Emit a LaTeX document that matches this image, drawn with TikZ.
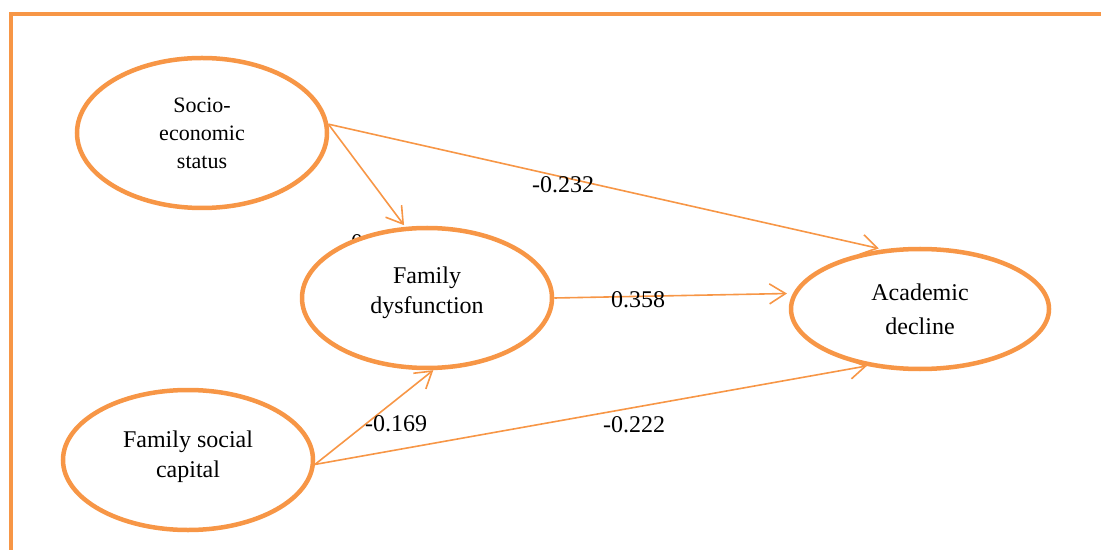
\documentclass[tikz,border=0pt]{standalone}
\usepackage{fontspec}
\setmainfont{Liberation Serif}
\usetikzlibrary{shapes}
\usetikzlibrary{arrows.meta}
\definecolor{pathorange}{HTML}{F79646}

\begin{document}
\begin{tikzpicture}
        [x=0.5pt, y=-0.5pt,
         every node/.style={ellipse, draw=pathorange, fill=white, line width=2.25pt, inner sep=0pt,
                            align=center, font=\fontsize{12}{15}\selectfont},
         coef/.style={rectangle, draw=none, fill=none, inner sep=1pt, font=\fontsize{12}{14}\selectfont},
         link/.style={draw=pathorange, line width=0.8pt, -{Straight Barb[length=8pt,width=10pt]}}]
        \useasboundingbox (0,0) rectangle (1101,550);
        \draw [pathorange, line width=2.25pt] (11,550) |- (1101,14);
        \node [coef] (hid) at (357,243) {0};
        \node [minimum width=125pt, minimum height=75pt, font=\fontsize{11}{14}\selectfont] (ses) at (202,133) {Socio-\\economic\\status};
        \node [minimum width=125pt, minimum height=70pt, text depth=8pt] (fd) at (427,298) {Family\\dysfunction};
        \node [minimum width=129pt, minimum height=60pt, font=\fontsize{12}{17}\selectfont] (ad) at (920,309) {Academic\\decline};
        \node [minimum width=125pt, minimum height=70pt, text depth=6pt] (fsc) at (188,460) {Family social\\capital};
        \draw [link, shorten >=2pt] (ses.4) -- (ad.122);
        \draw [link, shorten >=1pt] (ses.4) -- (fd.107);
        \draw [link, shorten >=3pt] (fd.east) -- (ad.173);
        \draw [link] (fsc.-2) -- (fd.275);
        \draw [link] (fsc.-2) -- (ad.227);
        \node [coef] (b1) at (563,185) {-0.232};
        \node [coef] (b2) at (638,300) {0.358};
        \node [coef] (b3) at (396,424) {-0.169};
        \node [coef] (b4) at (634,425) {-0.222};
    \end{tikzpicture}
\end{document}
